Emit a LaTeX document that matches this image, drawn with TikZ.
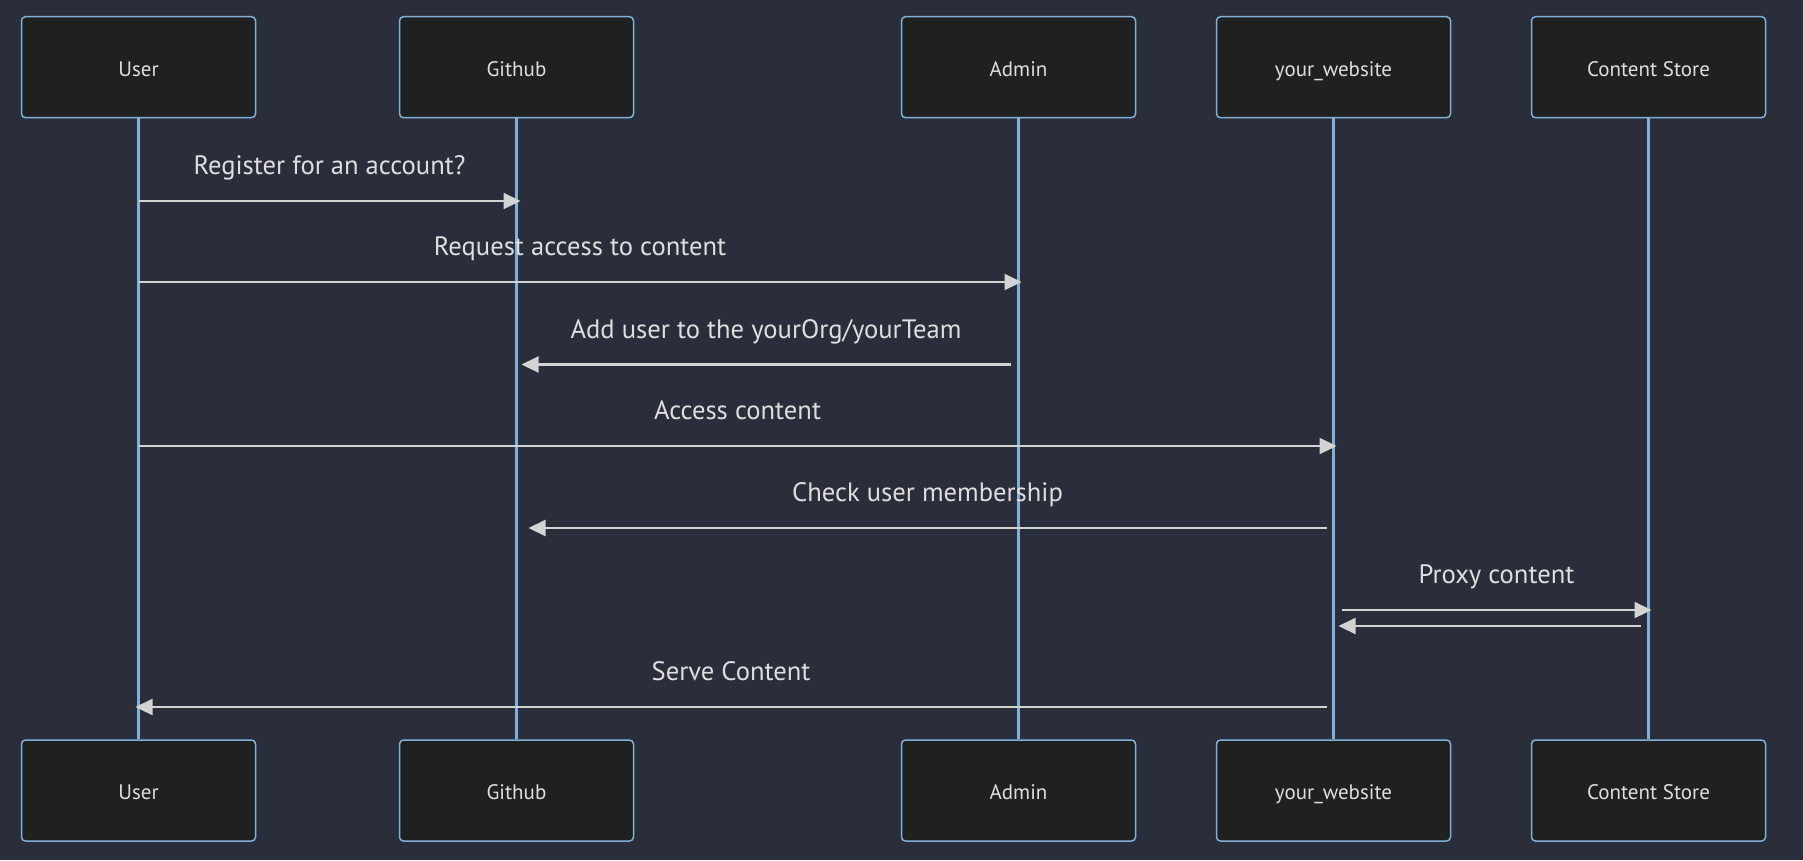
\documentclass[tikz,border=0pt]{standalone}
\usepackage{fontspec}
\setmainfont{PT Sans}
\usetikzlibrary{arrows.meta, positioning, calc}

\definecolor{bgdark}{RGB}{41,46,58}
\definecolor{actorfill}{RGB}{31,32,32}
\definecolor{actorline}{RGB}{129,177,219}
\definecolor{msgline}{RGB}{211,211,211}
\definecolor{msgtext}{RGB}{222,222,222}

\begin{document}
\begin{tikzpicture}[
  x=1pt, y=-1pt,
  actor/.style = {draw=actorline, fill=actorfill, line width=1.5pt,
                  rounded corners=4pt, minimum width=234pt,
                  minimum height=101pt, align=center, text=msgtext,
                  text height=18pt, text depth=0pt,
                  font=\fontsize{21}{25}\selectfont},
  lifeline/.style = {draw=actorline, line width=2.6pt},
  msg/.style = {draw=msgline, line width=2.2pt,
                -{Triangle[length=17pt, width=16pt]}},
  msglabel/.style = {text=msgtext, font=\fontsize{26.6}{31}\selectfont,
                     text height=18.5pt, text depth=0pt,
                     midway, yshift=35.5pt}
]

% Background
\fill[bgdark] (0,0) rectangle (1803,860);

% Actors (top row)
\node[actor] (userTop) at (138.5,67.2) {User};
\node[actor] (githubTop) at (516.5,67.2) {Github};
\node[actor] (adminTop) at (1018.5,67.2) {Admin};
\node[actor] (websiteTop) at (1333.5,67.2) {your\_website};
\node[actor] (storeTop) at (1648.5,67.2) {Content Store};

% Actors (bottom row)
\node[actor] (userBot) at (138.5,790.5) {User};
\node[actor] (githubBot) at (516.5,790.5) {Github};
\node[actor] (adminBot) at (1018.5,790.5) {Admin};
\node[actor] (websiteBot) at (1333.5,790.5) {your\_website};
\node[actor] (storeBot) at (1648.5,790.5) {Content Store};

% Lifelines
\draw[lifeline] (userTop.south) -- (userBot.north);
\draw[lifeline] (githubTop.south) -- (githubBot.north);
\draw[lifeline] (adminTop.south) -- (adminBot.north);
\draw[lifeline] (websiteTop.south) -- (websiteBot.north);
\draw[lifeline] (storeTop.south) -- (storeBot.north);

% Message levels
\coordinate (m1) at (0,201);
\coordinate (m2) at (0,282);
\coordinate (m3) at (0,364.5);
\coordinate (m4) at (0,446);
\coordinate (m5) at (0,528);
\coordinate (m6) at (0,610);
\coordinate (m6r) at (0,626);
\coordinate (m7) at (0,707);

% Messages
\draw[msg] (userTop |- m1) -- node[msglabel] {Register for an account?}
  ([xshift=4pt]githubTop |- m1);
\draw[msg] (userTop |- m2) -- node[msglabel] {Request access to content}
  ([xshift=3pt]adminTop |- m2);
\draw[msg] ([xshift=-8pt]adminTop |- m3) -- node[msglabel] {Add user to the yourOrg/yourTeam}
  ([xshift=5pt]githubTop |- m3);
\draw[msg] (userTop |- m4) -- node[msglabel] {Access content}
  ([xshift=3pt]websiteTop |- m4);
\draw[msg] ([xshift=-7pt]websiteTop |- m5) -- node[msglabel] {Check user membership}
  ([xshift=12pt]githubTop |- m5);
\draw[msg] ([xshift=8pt]websiteTop |- m6) -- node[msglabel] {Proxy content}
  ([xshift=3pt]storeTop |- m6);
\draw[msg] ([xshift=-8pt]storeTop |- m6r) -- ([xshift=5pt]websiteTop |- m6r);
\draw[msg] ([xshift=-7pt]websiteTop |- m7) -- node[msglabel] {Serve Content}
  ([xshift=-3pt]userTop |- m7);

\end{tikzpicture}
\end{document}
